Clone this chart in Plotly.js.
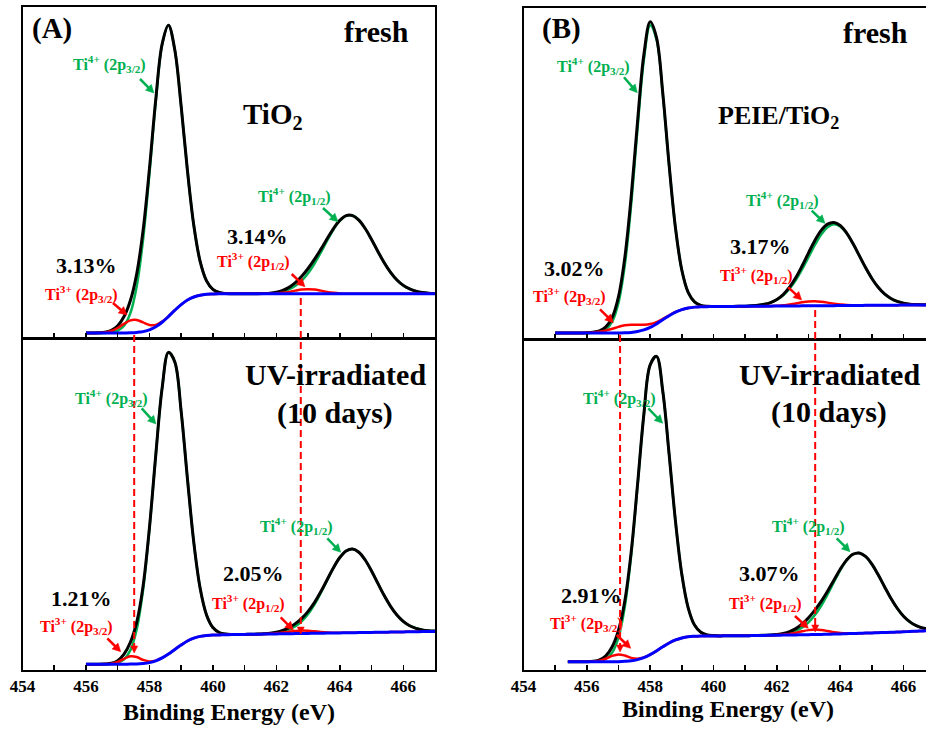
<!DOCTYPE html>
<html>
<head>
<meta charset="utf-8">
<script src="https://cdn.plot.ly/plotly-3.0.1.min.js"></script>
<style>html,body{margin:0;padding:0;background:#fff;}#chart{width:926px;height:729px;}</style>
</head>
<body>
<div id="chart"></div>
<script>
// ---------------- DATA (binding energy in eV, intensity in a.u.) ----------------
const energyA = [456.0,456.2,456.4,456.6,456.8,457.0,457.2,457.4,457.6,457.8,458.0,458.2,458.4,458.6,458.8,459.0,459.2,459.4,459.6,459.8,460.0,460.2,460.4,460.6,460.8,461.0,461.2,461.4,461.6,461.8,462.0,462.2,462.4,462.6,462.8,463.0,463.2,463.4,463.6,463.8,464.0,464.2,464.4,464.6,464.8,465.0,465.2,465.4,465.6,465.8,466.0,466.2,466.4,466.6,466.8,467.0];
const energyBFresh = [455.0,455.2,455.4,455.6,455.8,456.0,456.2,456.4,456.6,456.8,457.0,457.2,457.4,457.6,457.8,458.0,458.2,458.4,458.6,458.8,459.0,459.2,459.4,459.6,459.8,460.0,460.2,460.4,460.6,460.8,461.0,461.2,461.4,461.6,461.8,462.0,462.2,462.4,462.6,462.8,463.0,463.2,463.4,463.6,463.8,464.0,464.2,464.4,464.6,464.8,465.0,465.2,465.4,465.6,465.8,466.0,466.2,466.4,466.6,466.8];
const energyBUV = [455.4,455.6,455.8,456.0,456.2,456.4,456.6,456.8,457.0,457.2,457.4,457.6,457.8,458.0,458.2,458.4,458.6,458.8,459.0,459.2,459.4,459.6,459.8,460.0,460.2,460.4,460.6,460.8,461.0,461.2,461.4,461.6,461.8,462.0,462.2,462.4,462.6,462.8,463.0,463.2,463.4,463.6,463.8,464.0,464.2,464.4,464.6,464.8,465.0,465.2,465.4,465.6,465.8,466.0,466.2,466.4,466.6,466.8];

// (A) TiO2 fresh
const envelopeAFresh = [5.0,5.0,5.2,5.7,7.6,12.2,21.5,37.6,64.5,107.9,169.6,239.3,294.8,313.8,288.9,232.5,167.3,112.6,76.6,57.3,48.8,45.6,44.6,44.4,44.3,44.3,44.3,44.4,44.6,45.0,45.9,47.7,50.8,55.5,61.9,69.7,78.8,88.9,99.5,109.8,118.0,122.7,122.8,118.3,109.8,98.8,86.8,75.5,65.8,58.2,52.8,49.2,46.9,45.6,44.9,44.6];
const ti3AFresh = [5.0,5.0,5.1,5.6,7.0,10.0,14.2,17.7,18.1,15.6,13.1,13.2,16.4,21.7,27.8,33.5,38.1,41.1,42.9,43.8,44.1,44.3,44.3,44.3,44.3,44.3,44.3,44.3,44.3,44.4,44.7,45.3,46.2,47.5,48.6,49.0,48.6,47.5,46.2,45.3,44.7,44.4,44.3,44.3,44.3,44.3,44.3,44.3,44.3,44.3,44.3,44.3,44.3,44.3,44.3,44.3];
const backgroundAFresh = [5.0,5.0,5.0,5.0,5.0,5.0,5.1,5.2,5.6,6.4,8.2,11.2,15.8,21.5,27.8,33.5,38.1,41.1,42.9,43.8,44.1,44.3,44.3,44.3,44.3,44.3,44.3,44.3,44.3,44.3,44.3,44.3,44.3,44.3,44.3,44.3,44.3,44.3,44.3,44.3,44.3,44.3,44.3,44.3,44.3,44.3,44.3,44.3,44.3,44.3,44.3,44.3,44.3,44.3,44.3,44.3];
const ti4p32AFresh = [5.0,5.0,5.0,5.1,5.6,7.3,12.3,25.1,52.0,98.7,164.7,237.3,294.2,313.6,288.9,232.5,167.3,112.6,76.6,57.3,48.8,45.6,44.6,44.4];
const ti4p12AFresh = [44.3,44.3,44.4,44.6,44.9,45.5,46.7,48.9,52.4,57.6,65.0,74.5,85.7,97.6,108.8,117.6,122.6,122.8,118.3,109.8,98.8,86.8,75.5,65.8,58.2,52.8,49.2,46.9,45.6,44.9,44.6];

// (A) TiO2 UV-irradiated
const envelopeAUV = [5.5,5.5,5.5,5.7,6.4,9.1,15.7,27.5,47.6,83.8,142.1,215.2,282.3,318.2,308.6,259.0,190.9,127.2,81.4,54.9,42.3,37.3,35.7,35.3,35.3,35.4,35.5,35.7,36.0,36.5,37.6,39.4,42.2,46.2,51.5,58.5,67.3,78.1,90.2,102.3,112.5,119.1,121.0,117.8,110.0,99.0,86.5,74.3,63.5,54.8,48.4,44.1,41.5,39.9,39.1,38.8];
const ti3AUV = [5.5,5.5,5.5,5.6,6.0,7.7,10.9,13.5,12.7,9.8,8.3,9.1,11.8,15.7,20.3,24.8,28.8,31.6,33.4,34.3,34.8,34.9,35.1,35.2,35.3,35.4,35.5,35.6,35.8,36.1,36.5,37.2,38.1,38.9,39.3,39.1,38.5,37.8,37.3,37.1,37.0,37.0,37.1,37.2,37.3,37.4,37.5,37.6,37.7,37.8,37.9,38.0,38.1,38.2,38.3,38.4];
const backgroundAUV = [5.5,5.5,5.5,5.5,5.5,5.5,5.5,5.6,5.7,6.2,7.1,8.9,11.8,15.7,20.3,24.8,28.8,31.6,33.4,34.3,34.8,34.9,35.1,35.2,35.3,35.4,35.5,35.6,35.7,35.8,35.9,36.0,36.1,36.2,36.3,36.4,36.5,36.6,36.7,36.8,36.9,37.0,37.1,37.2,37.3,37.4,37.5,37.6,37.7,37.8,37.9,38.0,38.1,38.2,38.3,38.4];
const ti4p32AUV = [5.5,5.5,5.5,5.6,5.9,6.9,10.3,19.6,40.6,80.2,140.9,215.0,282.3,318.2,308.6,259.0,190.9,127.2,81.4,54.9,42.3,37.3,35.7,35.3];
const ti4p12AUV = [35.4,35.5,35.7,35.9,36.3,36.9,38.1,40.2,43.5,48.5,55.8,65.3,76.9,89.6,102.0,112.4,119.1,121.0,117.8,110.0,99.0,86.5,74.3,63.5,54.8,48.4,44.1,41.5,39.9,39.1,38.8];

// (B) PEIE/TiO2 fresh
const envelopeBFresh = [6.0,6.0,6.0,6.0,6.1,6.2,6.8,8.2,12.1,21.7,42.6,81.9,142.9,217.8,285.3,318.4,302.5,246.1,174.0,111.1,69.0,46.7,37.2,33.8,32.9,32.7,32.6,32.7,32.7,32.9,33.0,33.3,33.8,34.8,36.6,39.7,44.6,52.0,61.7,73.6,86.5,98.9,109.0,115.3,117.0,114.0,106.6,96.1,83.9,71.7,60.8,51.9,45.2,40.7,37.7,36.0,35.0,34.6,34.4,34.4];
const ti3BFresh = [6.0,6.0,6.0,6.0,6.1,6.2,6.6,7.3,8.5,10.3,12.2,13.7,14.4,14.3,14.3,15.0,17.0,20.2,23.8,27.1,29.5,31.1,32.0,32.4,32.5,32.6,32.6,32.7,32.7,32.8,32.8,32.9,32.9,33.0,33.1,33.4,33.8,34.7,35.7,36.8,37.6,37.9,37.4,36.5,35.4,34.7,34.1,33.9,33.8,33.8,33.8,33.9,33.9,34.0,34.0,34.1,34.1,34.2,34.2,34.3];
const backgroundBFresh = [6.0,6.0,6.0,6.0,6.0,6.0,6.0,6.0,6.0,6.0,6.1,6.2,6.6,7.5,9.1,11.6,15.2,19.3,23.4,27.0,29.5,31.1,32.0,32.4,32.5,32.6,32.6,32.7,32.7,32.8,32.8,32.9,32.9,33.0,33.0,33.1,33.1,33.2,33.2,33.3,33.3,33.4,33.4,33.5,33.5,33.6,33.6,33.7,33.7,33.8,33.8,33.9,33.9,34.0,34.0,34.1,34.1,34.2,34.2,34.3];
const ti4p32BFresh = [6.0,6.0,6.0,6.0,6.0,6.0,6.2,7.0,9.6,17.4,36.5,74.4,135.1,211.0,280.1,315.0,300.7,245.2,173.6,111.0,69.0,46.7,37.2,33.8,32.9,32.7];
const ti4p12BFresh = [32.7,32.9,33.0,33.3,33.8,34.8,36.5,39.4,43.9,50.5,59.2,70.1,82.2,94.4,105.0,112.3,115.1,112.9,106.1,95.9,83.8,71.7,60.8,51.9,45.2,40.7,37.7,36.0,35.0,34.6,34.4,34.4];

// (B) PEIE/TiO2 UV-irradiated
const envelopeBUV = [8.0,8.0,8.0,8.0,8.4,9.8,14.0,23.1,39.8,69.4,118.3,185.8,256.7,306.6,315.1,279.6,216.1,148.9,95.7,62.2,44.9,37.6,35.0,34.3,34.0,34.1,34.1,34.2,34.2,34.3,34.4,34.6,34.8,35.4,36.4,38.2,41.3,46.0,52.2,59.9,68.7,78.9,89.9,101.0,110.2,116.1,117.4,113.9,106.1,95.4,83.5,71.8,61.8,53.8,48.1,44.3,42.0,40.9];
const ti3BUV = [8.0,8.0,8.0,8.0,8.2,9.0,11.0,13.9,15.4,14.2,11.9,11.1,12.3,15.1,18.9,23.1,26.9,29.9,31.9,33.1,33.6,33.9,34.0,34.0,34.0,34.1,34.1,34.2,34.2,34.3,34.4,34.5,34.6,34.9,35.3,36.0,37.2,38.6,39.8,40.4,39.9,38.9,37.7,37.0,36.6,36.5,36.6,36.8,37.0,37.2,37.4,37.6,37.9,38.1,38.4,38.7,39.0,39.3];
const backgroundBUV = [8.0,8.0,8.0,8.0,8.0,8.0,8.0,8.0,8.1,8.4,8.9,10.1,12.1,15.1,18.9,23.1,26.9,29.9,31.9,33.1,33.6,33.9,34.0,34.0,34.0,34.1,34.1,34.2,34.2,34.3,34.4,34.5,34.6,34.7,34.8,34.9,35.0,35.1,35.2,35.4,35.5,35.7,35.8,36.0,36.2,36.4,36.6,36.8,37.0,37.2,37.4,37.6,37.9,38.1,38.4,38.7,39.0,39.3];
const ti4p32BUV = [8.0,8.0,8.0,8.0,8.2,8.8,11.0,17.2,32.5,63.6,115.3,184.8,256.5,306.6,315.1,279.6,216.1,148.9,95.7,62.2,44.9,37.6,35.0,34.3,34.1];
const ti4p12BUV = [34.2,34.3,34.4,34.6,34.8,35.2,35.9,37.1,39.2,42.5,47.6,54.9,64.3,75.7,88.0,100.0,109.8,116.0,117.4,113.9,106.1,95.4,83.5,71.8,61.8,53.8,48.1,44.3,42.0,40.9];

// Ti3+ peak markers (eV) and labels
const ti3MarkA = [457.52, 462.77];
const ti3MarkB = [457.05, 463.21];
const tickValues = [454,456,458,460,462,464,466];
const tickLabels = ['454','456','458','460','462','464','466'];
const ti3Percent = ['3.13%','3.14%','1.21%','2.05%','3.02%','3.17%','2.91%','3.07%'];
const ti4Label32 = 'Ti<sup>4+</sup> (2p<sub>3/2</sub>)';
const ti4Label12 = 'Ti<sup>4+</sup> (2p<sub>1/2</sub>)';
const ti3Label32 = 'Ti<sup>3+</sup> (2p<sub>3/2</sub>)';
const ti3Label12 = 'Ti<sup>3+</sup> (2p<sub>1/2</sub>)';

// ---------------- STYLE / LAYOUT ----------------
const W = 926, H = 729;
const px = v => v / W;
const py = v => 1 - v / H;
const SERIF = 'Liberation Serif';
const GREEN = '#00B050', RED = '#FF0000', BLUE = '#0000FF', BLACK = '#000000';

function panelTraces(xa, ya, x, env, ti3, bg, g32, g32n, g12, g12start) {
  const common = {xaxis: xa, yaxis: ya, mode: 'lines', hoverinfo: 'skip', showlegend: false};
  return [
    Object.assign({x: x.slice(0, g32n), y: g32, line: {color: GREEN, width: 2.5, shape: 'spline'}}, common),
    Object.assign({x: x.slice(g12start), y: g12, line: {color: GREEN, width: 2.5, shape: 'spline'}}, common),
    Object.assign({x: x, y: env, line: {color: BLACK, width: 3, shape: 'spline'}}, common),
    Object.assign({x: x, y: ti3, line: {color: RED, width: 2.5, shape: 'spline'}}, common),
    Object.assign({x: x, y: bg, line: {color: BLUE, width: 3, shape: 'spline'}}, common)
  ];
}

const data = [].concat(
  panelTraces('x', 'y', energyA, envelopeAFresh, ti3AFresh, backgroundAFresh, ti4p32AFresh, 24, ti4p12AFresh, 25),
  panelTraces('x2', 'y2', energyA, envelopeAUV, ti3AUV, backgroundAUV, ti4p32AUV, 24, ti4p12AUV, 25),
  panelTraces('x3', 'y3', energyBFresh, envelopeBFresh, ti3BFresh, backgroundBFresh, ti4p32BFresh, 26, ti4p12BFresh, 28),
  panelTraces('x4', 'y4', energyBUV, envelopeBUV, ti3BUV, backgroundBUV, ti4p32BUV, 25, ti4p12BUV, 28)
);

const tickFont = {family: SERIF, size: 17, color: BLACK, weight: 'bold'};
function xAxis(domain, range, anchor, showLabels) {
  return {domain, range, anchor, showline: true, linewidth: 2, linecolor: BLACK, mirror: true,
    ticks: 'inside', ticklen: 5, tickwidth: 1.5, tickcolor: BLACK,
    tickmode: 'array', tickvals: tickValues, ticktext: tickLabels,
    minor: {tick0: 455, dtick: 2, ticks: 'inside', ticklen: 5, tickwidth: 1.5, tickcolor: BLACK, showgrid: false},
    showticklabels: showLabels, tickfont: tickFont, showgrid: false, zeroline: false, fixedrange: true};
}
function yAxis(domain, anchor, mirror) {
  return {domain, range: [0, 332], anchor, showline: true, linewidth: 2, linecolor: BLACK, mirror,
    ticks: '', showticklabels: false, showgrid: false, zeroline: false, fixedrange: true};
}
const domA = [px(22.5), px(435)];
const domB = [px(523.5), 1];
const rangeA = [454, 467];
const rangeB = [454, 454 + (926 - 523.5) / 31.67];

function txt(x, y, text, size, color) {
  return {xref: 'paper', yref: 'paper', x: px(x), y: py(y), xanchor: 'center', yanchor: 'middle',
    text, showarrow: false, font: {family: SERIF, size, color, weight: 'bold'}};
}
const P = (x, y) => px(x).toFixed(5) + ',' + py(y).toFixed(5);
// arrow drawn as a line plus a filled triangular head (pixel positions of tail and head)
function arrowShapes(tx, ty, hx, hy, color) {
  const dx = hx - tx, dy = hy - ty, L = Math.hypot(dx, dy);
  const ux = dx / L, uy = dy / L, hl = 8, hw = 4.2;
  const bx = hx - ux * hl, by = hy - uy * hl;
  return [
    {type: 'line', xref: 'paper', yref: 'paper', x0: px(tx), y0: py(ty), x1: px(bx + ux), y1: py(by + uy),
     line: {color, width: 2.5}},
    {type: 'path', xref: 'paper', yref: 'paper', fillcolor: color, line: {color, width: 0.5},
     path: 'M' + P(hx, hy) + 'L' + P(bx - uy * hw, by + ux * hw) + 'L' + P(bx + uy * hw, by - ux * hw) + 'Z'}
  ];
}
// small downward head at the end of a dashed guide line (x in data units, y in pixels)
function dashHead(xref, xv, yTip, pxPerEv) {
  const hw = 3.5 / pxPerEv;
  return {type: 'path', xref, yref: 'paper', fillcolor: RED, line: {color: RED, width: 0.5},
    path: 'M' + xv + ',' + py(yTip) + 'L' + (xv - hw) + ',' + py(yTip - 7) + 'L' + (xv + hw) + ',' + py(yTip - 7) + 'Z'};
}

const annotations = [
  // (A) fresh
  txt(52, 28, '(A)', 29, BLACK),
  txt(376, 32, 'fresh', 30, BLACK),
  txt(273, 116, 'TiO<sub>2</sub>', 29, BLACK),
  txt(109.5, 64, ti4Label32, 16, GREEN),
  txt(86, 265, ti3Percent[0], 22, BLACK),
  txt(81.5, 294.5, ti3Label32, 16, RED),
  txt(257.5, 236.5, ti3Percent[1], 22, BLACK),
  txt(253.5, 260.5, ti3Label12, 16, RED),
  txt(294.5, 195.7, ti4Label12, 16, GREEN),
  // (A) UV
  txt(335, 374, 'UV-irradiated', 30, BLACK),
  txt(335, 413, '(10 days)', 30, BLACK),
  txt(111, 397.5, ti4Label32, 16, GREEN),
  txt(81, 598.5, ti3Percent[2], 22, BLACK),
  txt(76, 625.5, ti3Label32, 16, RED),
  txt(253.5, 573.5, ti3Percent[3], 22, BLACK),
  txt(248, 602.5, ti3Label12, 16, RED),
  txt(296.5, 525.5, ti4Label12, 16, GREEN),
  txt(228.5, 712, 'Binding Energy (eV)', 24, BLACK),
  // (B) fresh
  txt(561.7, 28, '(B)', 29, BLACK),
  txt(875.7, 32.5, 'fresh', 30, BLACK),
  txt(778, 117, 'PEIE/TiO<sub>2</sub>', 26, BLACK),
  txt(593, 65.5, ti4Label32, 16, GREEN),
  txt(574, 268.5, ti3Percent[4], 22, BLACK),
  txt(569.7, 295.7, ti3Label32, 16, RED),
  txt(760, 246.5, ti3Percent[5], 22, BLACK),
  txt(756, 274.5, ti3Label12, 16, RED),
  txt(782.5, 199.5, ti4Label12, 16, GREEN),
  // (B) UV
  txt(829, 374, 'UV-irradiated', 30, BLACK),
  txt(829, 412, '(10 days)', 30, BLACK),
  txt(619.7, 397.5, ti4Label32, 16, GREEN),
  txt(591, 595, ti3Percent[6], 22, BLACK),
  txt(586, 622.5, ti3Label32, 16, RED),
  txt(769, 573.5, ti3Percent[7], 22, BLACK),
  txt(765, 602.5, ti3Label12, 16, RED),
  txt(808.3, 525.5, ti4Label12, 16, GREEN),
  txt(728, 709, 'Binding Energy (eV)', 24, BLACK)
];

const dashStyle = {color: RED, width: 2, dash: '7px,4px'};
const pxPerEvA = (435 - 22.5) / 13;
const pxPerEvB = 31.67;
const shapes = [
  {type: 'line', xref: 'x', yref: 'paper', x0: ti3MarkA[0], x1: ti3MarkA[0], y0: py(335), y1: py(647), line: dashStyle},
  {type: 'line', xref: 'x', yref: 'paper', x0: ti3MarkA[1], x1: ti3MarkA[1], y0: py(298), y1: py(628), line: dashStyle},
  {type: 'line', xref: 'x3', yref: 'paper', x0: ti3MarkB[0], x1: ti3MarkB[0], y0: py(335), y1: py(646), line: dashStyle},
  {type: 'line', xref: 'x3', yref: 'paper', x0: ti3MarkB[1], x1: ti3MarkB[1], y0: py(310), y1: py(626), line: dashStyle},
  dashHead('x2', ti3MarkA[0], 653, pxPerEvA), dashHead('x2', ti3MarkA[1], 634, pxPerEvA),
  dashHead('x4', ti3MarkB[0], 652, pxPerEvB), dashHead('x4', ti3MarkB[1], 632, pxPerEvB)
].concat(
  arrowShapes(140, 79, 154, 93, GREEN), arrowShapes(113, 303, 127, 315, RED),
  arrowShapes(291.7, 274, 305, 286.7, RED), arrowShapes(323, 208, 338, 221.7, GREEN),
  arrowShapes(141.7, 408.3, 156, 424, GREEN), arrowShapes(107.3, 638.3, 120.7, 651.7, RED),
  arrowShapes(280.7, 617.3, 293.3, 630, RED), arrowShapes(327.3, 538.3, 340.7, 552.3, GREEN),
  arrowShapes(624, 77.3, 637.3, 92.7, GREEN), arrowShapes(600, 309.3, 613.3, 322.7, RED),
  arrowShapes(788.3, 287.3, 801.7, 300, RED), arrowShapes(811.7, 210.7, 825, 223.3, GREEN),
  arrowShapes(648.3, 408.3, 662.7, 423.3, GREEN), arrowShapes(616.7, 635, 630.7, 648.3, RED),
  arrowShapes(795, 616, 808.3, 628.3, RED), arrowShapes(836.7, 538.3, 850, 551.7, GREEN)
);

const layout = {
  width: W, height: H,
  margin: {l: 0, r: 0, t: 0, b: 0, pad: 0},
  paper_bgcolor: '#ffffff', plot_bgcolor: '#ffffff',
  font: {family: SERIF, color: BLACK},
  showlegend: false,
  xaxis: xAxis(domA, rangeA, 'y', false),
  yaxis: yAxis([py(338), py(7)], 'x', true),
  xaxis2: xAxis(domA, rangeA, 'y2', true),
  yaxis2: yAxis([py(669.7), py(338.6)], 'x2', true),
  xaxis3: xAxis(domB, rangeB, 'y3', false),
  yaxis3: yAxis([py(339), py(8.3)], 'x3', false),
  xaxis4: xAxis(domB, rangeB, 'y4', true),
  yaxis4: yAxis([py(669.7), py(339.6)], 'x4', false),
  annotations, shapes
};

Plotly.newPlot('chart', data, layout, {displayModeBar: false, staticPlot: true});
</script>
</body>
</html>
